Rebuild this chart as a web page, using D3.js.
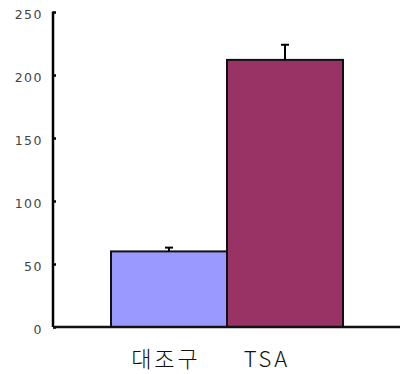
<!DOCTYPE html>
<html>
<head>
<meta charset="utf-8">
<script src="https://cdn.jsdelivr.net/npm/d3@7"></script>
<style>
  html, body { margin: 0; padding: 0; background: #fff; }
  svg { display: block; }
</style>
</head>
<body>
<svg id="chart" width="401" height="374"></svg>
<script>
// Group names, mean values and error sizes
const categories = ["대조구", "TSA"];
const values = [60, 212];
const errors = [3, 12];
const barColors = ["#9999FF", "#993366"];
const yTicks = [0, 50, 100, 150, 200, 250];

const svg = d3.select("#chart");
const axisX = 53, axisY0 = 327, axisTop = 12;

const y = d3.scaleLinear().domain([0, 250]).range([axisY0, axisTop]);
const x = d3.scaleBand().domain(categories).range([111, 343]).paddingInner(0).paddingOuter(0);
// Category labels sit on their own point scale, slightly left of the bar centres
const xLabel = d3.scalePoint().domain(categories).range([166, 267]);

// Bars
svg.selectAll("rect.bar")
  .data(categories)
  .enter().append("rect")
  .attr("class", "bar")
  .attr("x", d => x(d))
  .attr("y", (d, i) => y(values[i]))
  .attr("width", x.bandwidth())
  .attr("height", (d, i) => y(0) - y(values[i]))
  .attr("fill", (d, i) => barColors[i])
  .attr("stroke", "#111")
  .attr("stroke-width", 2);

// Error bars (upper half only)
const eb = svg.selectAll("g.err").data(categories).enter().append("g").attr("class", "err");
eb.append("line")
  .attr("x1", d => x(d) + x.bandwidth() / 2)
  .attr("x2", d => x(d) + x.bandwidth() / 2)
  .attr("y1", (d, i) => y(values[i]))
  .attr("y2", (d, i) => y(values[i] + errors[i]))
  .attr("stroke", "#000").attr("stroke-width", 2);
eb.append("line")
  .attr("x1", d => x(d) + x.bandwidth() / 2 - 4)
  .attr("x2", d => x(d) + x.bandwidth() / 2 + 4)
  .attr("y1", (d, i) => y(values[i] + errors[i]))
  .attr("y2", (d, i) => y(values[i] + errors[i]))
  .attr("stroke", "#000").attr("stroke-width", 2);

// Y axis with inward ticks
const yAxis = d3.axisRight(y).tickValues(yTicks).tickSize(3).tickFormat("");
const gy = svg.append("g").attr("transform", `translate(${axisX},0)`).call(yAxis);
gy.select(".domain").attr("stroke", "#000").attr("stroke-width", 2.5)
  .attr("d", `M0,${axisTop - 0.5}V${axisY0}`);
gy.selectAll(".tick line").attr("stroke", "#000").attr("stroke-width", 2.5);

// Tick labels
svg.append("g").selectAll("text")
  .data(yTicks)
  .enter().append("text")
  .attr("x", 43)
  .attr("y", d => y(d) + 3)
  .attr("text-anchor", "end")
  .attr("dominant-baseline", "middle")
  .attr("font-family", "DejaVu Sans, sans-serif")
  .attr("font-size", 12.5)
  .attr("letter-spacing", 1.5)
  .attr("fill", "#444")
  .text(d => d);

// X axis baseline
svg.append("line")
  .attr("x1", axisX).attr("x2", 400)
  .attr("y1", axisY0).attr("y2", axisY0)
  .attr("stroke", "#111").attr("stroke-width", 2.5);

// Category labels
svg.append("g").selectAll("text")
  .data(categories)
  .enter().append("text")
  .attr("x", d => xLabel(d))
  .attr("y", 367)
  .attr("text-anchor", "middle")
  .attr("font-family", "Noto Sans CJK KR, DejaVu Sans, sans-serif")
  .attr("font-weight", 300)
  .attr("font-size", 22)
  .attr("letter-spacing", 3)
  .attr("fill", "#111")
  .text(d => d);
</script>
</body>
</html>
